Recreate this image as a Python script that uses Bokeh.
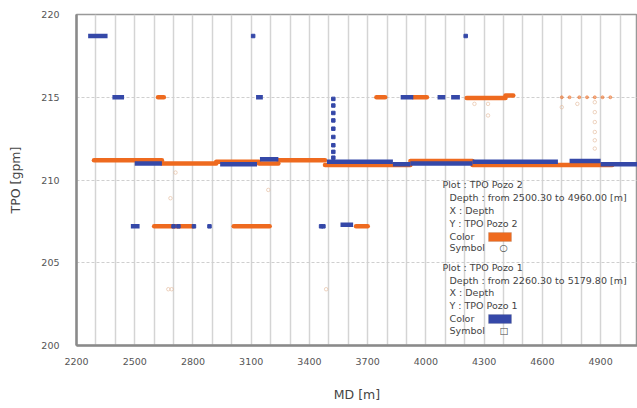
from bokeh.plotting import figure
from bokeh.models import ColumnDataSource, FixedTicker, Label, BoxAnnotation, Range1d
from bokeh.embed import file_html
from bokeh.resources import INLINE

# ---------------- data ----------------
x_ticks = [2200, 2500, 2800, 3100, 3400, 3700, 4000, 4300, 4600, 4900]
y_ticks = [200, 205, 210, 215, 220]
grid_md = [2300, 2400, 2500, 2600, 2700, 2800, 2900, 3000, 3100, 3200, 3300, 3400,
           3500, 3600, 3700, 3800, 3900, 4000, 4100, 4200, 4300, 4400, 4500, 4600,
           4700, 4800, 4900, 5000]

# TPO Pozo 2 (orange) - continuous runs of samples
pozo2_run_start = [2290, 2640, 2920, 3140, 3240, 3480, 3920, 4240,
                   2600, 3010, 3640,
                   2620, 3745, 3935, 4210, 4410]
pozo2_run_end = [2640, 2920, 3140, 3240, 3480, 3920, 4240, 4960,
                 2800, 3195, 3700,
                 2650, 3790, 4005, 4410, 4450]
pozo2_run_tpo = [211.2, 211.0, 211.1, 211.0, 211.2, 210.9, 211.15, 210.9,
                 207.2, 207.2, 207.2,
                 215.0, 215.0, 215.0, 214.95, 215.1]
# isolated samples
pozo2_pts_md = [4700, 4740, 4790, 4830, 4870, 4910, 4950]
pozo2_pts_tpo = [215.0, 215.0, 215.0, 215.0, 215.0, 215.0, 215.0]
# faint scattered samples
pozo2_faint_md = [4870, 4870, 4870, 4870, 4870, 4870, 2710, 2684, 3188, 2673, 2690,
                  3486, 4250, 4320, 4320, 4700, 4780]
pozo2_faint_tpo = [214.7, 214.1, 213.5, 212.9, 212.4, 211.9, 210.45, 208.9, 209.4,
                   203.4, 203.4, 203.4, 214.6, 214.6, 213.9, 214.4, 214.6]

# TPO Pozo 1 (blue) - continuous runs of samples
pozo1_run_start = [2260, 2385, 2500, 2480, 2940, 3125, 3145, 3490, 3830, 3920,
                   4240, 4740, 4900, 3560, 3870, 4060, 4130]
pozo1_run_end = [2360, 2445, 2640, 2525, 3130, 3160, 3240, 3830, 3920, 4240,
                 4680, 4900, 5090, 3625, 3935, 4100, 4175]
pozo1_run_tpo = [218.7, 215.0, 211.0, 207.2, 210.95, 215.0, 211.25, 211.1, 210.95,
                 211.0, 211.1, 211.15, 210.95, 207.3, 215.0, 215.0, 215.0]
# isolated samples
pozo1_pts_md = [3110, 4205, 2700, 2725, 2805, 2885, 3460, 3472,
                3523, 3523, 3523, 3523, 3523, 3523, 3523, 3523, 3523]
pozo1_pts_tpo = [218.7, 218.7, 207.2, 207.2, 207.2, 207.2, 207.2, 207.2,
                 214.9, 214.5, 214.05, 213.6, 213.1, 212.6, 212.1, 211.7, 211.35]

ORANGE = "#EE6A1F"
BLUE = "#3548A8"
FONT = "DejaVu Sans"
TXT = "#444444"

FRAME_LEFT, FRAME_BOTTOM = 76, 345

p = figure(width=637, height=408, output_backend="svg", toolbar_location=None,
           x_range=Range1d(2200, 5090), y_range=Range1d(200, 220),
           min_border_left=FRAME_LEFT, min_border_right=0, min_border_top=14,
           min_border_bottom=408 - FRAME_BOTTOM)
p.background_fill_color = "white"
p.border_fill_color = "white"
p.outline_line_color = "#999999"
p.outline_line_width = 1.5

# axes
p.xaxis.ticker = FixedTicker(ticks=x_ticks)
p.yaxis.ticker = FixedTicker(ticks=y_ticks)
for ax in (p.xaxis, p.yaxis):
    ax.major_tick_line_color = None
    ax.minor_tick_line_color = None
    ax.axis_line_color = "#8a8a8a"
    ax.axis_line_width = 2.5
    ax.major_label_text_font = FONT
    ax.major_label_text_font_size = "9.5px"
    ax.major_label_text_color = "#555555"
    ax.axis_label_text_font = FONT
    ax.axis_label_text_font_size = "12.5px"
    ax.axis_label_text_font_style = "normal"
    ax.axis_label_text_color = "#444444"
p.xaxis.axis_label = "MD [m]"
p.yaxis.axis_label = "TPO [gpm]"
p.xaxis.major_label_standoff = 6
p.xaxis.axis_label_standoff = 19
p.yaxis.major_label_standoff = 11
p.yaxis.axis_label_standoff = 15

# grid
p.xgrid.ticker = FixedTicker(ticks=grid_md)
p.xgrid.grid_line_color = "#d4d4d4"
p.xgrid.grid_line_width = 1.5
p.ygrid.ticker = FixedTicker(ticks=[205, 210, 215])
p.ygrid.grid_line_color = "#cfcfcf"
p.ygrid.grid_line_dash = "3 2"
p.ygrid.grid_line_width = 1

# Pozo 2 (orange circles)
src2 = ColumnDataSource(dict(x0=pozo2_run_start, x1=pozo2_run_end, y=pozo2_run_tpo))
p.segment(x0="x0", y0="y", x1="x1", y1="y", source=src2, line_color=ORANGE,
          line_width=4.5, line_cap="round")
p.scatter(pozo2_faint_md, pozo2_faint_tpo, marker="circle", size=3.5,
          line_color="#e3b898", fill_color=None, line_alpha=0.6)
p.scatter(pozo2_pts_md, pozo2_pts_tpo, marker="circle", size=3,
          line_color=ORANGE, fill_color=ORANGE, alpha=0.5)

# Pozo 1 (blue squares)
src1 = ColumnDataSource(dict(x0=pozo1_run_start, x1=pozo1_run_end, y=pozo1_run_tpo))
p.segment(x0="x0", y0="y", x1="x1", y1="y", source=src1, line_color=BLUE,
          line_width=4.5, line_cap="butt")
p.scatter(pozo1_pts_md, pozo1_pts_tpo, marker="square", size=3.5,
          line_color=BLUE, fill_color=BLUE)

# legend-like text block (positions given in page pixels, converted to frame-relative)
def lab(x, y, t):
    p.add_layout(Label(x=x - FRAME_LEFT, y=FRAME_BOTTOM - y, x_units="screen",
                       y_units="screen", text=t, text_font=FONT,
                       text_font_size="9.5px", text_color=TXT,
                       text_baseline="middle"))

lines = [
    (442, 184, "Plot : TPO Pozo 2"),
    (449, 197, "Depth : from 2500.30 to 4960.00 [m]"),
    (449, 210, "X : Depth"),
    (449, 223, "Y : TPO Pozo 2"),
    (449, 236, "Color"),
    (449, 247, "Symbol"),
    (442, 267, "Plot : TPO Pozo 1"),
    (449, 280, "Depth : from 2260.30 to 5179.80 [m]"),
    (449, 292, "X : Depth"),
    (449, 305, "Y : TPO Pozo 1"),
    (449, 318, "Color"),
    (449, 330, "Symbol"),
]
for x, y, t in lines:
    lab(x, y, t)
lab(499, 247, "○")
lab(499, 330, "□")

def swatch(top, color):
    p.add_layout(BoxAnnotation(left=488 - FRAME_LEFT, right=511 - FRAME_LEFT,
                               top=FRAME_BOTTOM - top, bottom=FRAME_BOTTOM - top - 9,
                               left_units="screen", right_units="screen",
                               top_units="screen", bottom_units="screen",
                               fill_color=color, fill_alpha=1, line_color="#666666",
                               line_width=0.5))

swatch(232, ORANGE)
swatch(314, BLUE)

open("out.html", "w").write(file_html(p, INLINE))
